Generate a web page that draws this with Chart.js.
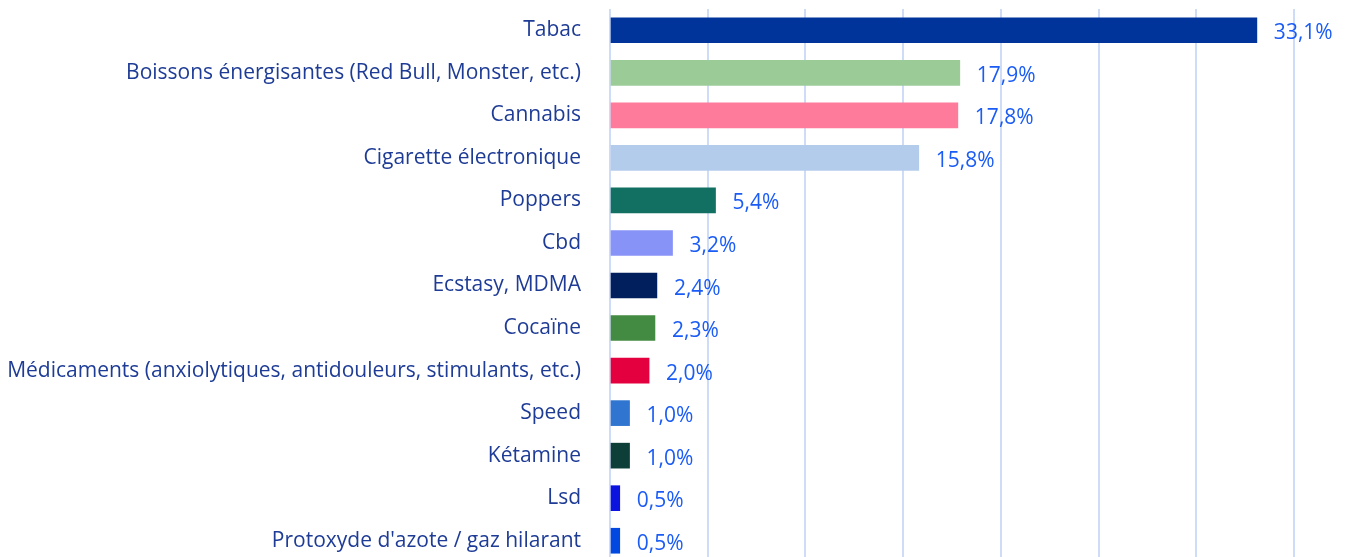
<!DOCTYPE html>
<html>
<head>
<meta charset="utf-8">
<script src="https://cdn.jsdelivr.net/npm/chart.js@4/dist/chart.umd.min.js"></script>
<style>
	html, body { margin: 0; padding: 0; background: #ffffff; overflow: hidden; }
	#wrap { position: relative; width: 1349px; height: 562px; }
</style>
</head>
<body>
<div id="wrap"><canvas id="chart"></canvas></div>
<script>
var categories = [
	"Tabac",
	"Boissons énergisantes (Red Bull, Monster, etc.)",
	"Cannabis",
	"Cigarette électronique",
	"Poppers",
	"Cbd",
	"Ecstasy, MDMA",
	"Cocaïne",
	"Médicaments (anxiolytiques, antidouleurs, stimulants, etc.)",
	"Speed",
	"Kétamine",
	"Lsd",
	"Protoxyde d'azote / gaz hilarant"
]
var values = [33.1, 17.9, 17.8, 15.8, 5.4, 3.2, 2.4, 2.3, 2.0, 1.0, 1.0, 0.5, 0.5]
var barColors = [
	"#00349a", "#9bcc98", "#ff7b9c", "#b4cceb", "#127063", "#8893f8", "#001f5c",
	"#438a42", "#e4003e", "#3075cf", "#0d3f38", "#0a14de", "#0048e0"
]

var fontName = "'Open Sans', sans-serif"

// draws "33,1%" after every bar
var valueLabels = {
	id: "valueLabels",
	afterDatasetsDraw: function(chart)
	{
		var ctx = chart.ctx
		var meta = chart.getDatasetMeta(0)
		ctx.save()
		ctx.font = "21px " + fontName
		ctx.fillStyle = "#1a5cf5"
		ctx.textAlign = "left"
		ctx.textBaseline = "alphabetic"
		for(var i = 0; i < meta.data.length; i++)
		{
			var bar = meta.data[i]
			var txt = values[i].toFixed(1).replace(".", ",") + "%"
			ctx.fillText(txt, bar.x + 17, bar.y + 9)
		}
		ctx.restore()
	}
}

var ctx0 = document.getElementById("chart")
var myChart = new Chart(ctx0, {
	type: "bar",
	data: {
		labels: categories,
		datasets: [{
			data: values,
			backgroundColor: barColors,
			borderWidth: 0,
			barThickness: 25
		}]
	},
	options: {
		indexAxis: "y",
		responsive: true,
		maintainAspectRatio: false,
		animation: false,
		layout: { padding: { top: 9, right: 55, bottom: 0, left: 0 } },
		plugins: {
			legend: { display: false },
			tooltip: { enabled: false }
		},
		scales: {
			x: {
				min: 0,
				max: 35,
				ticks: { display: false, stepSize: 5 },
				grid: { color: "#cfdcf8", lineWidth: 2, drawTicks: false },
				border: { display: false },
				afterFit: function(scale)
				{
					scale.height = 0
					scale.paddingLeft = 0
					scale.paddingRight = 0
				}
			},
			y: {
				grid: { display: false },
				border: { display: false },
				afterFit: function(scale)
				{
					scale.width = 610
					scale.paddingTop = 0
					scale.paddingBottom = 0
				},
				ticks: {
					color: "#1e3c96",
					padding: 21,
					font: { family: fontName, size: 21 }
				}
			}
		}
	},
	plugins: [valueLabels]
})
</script>
</body>
</html>
